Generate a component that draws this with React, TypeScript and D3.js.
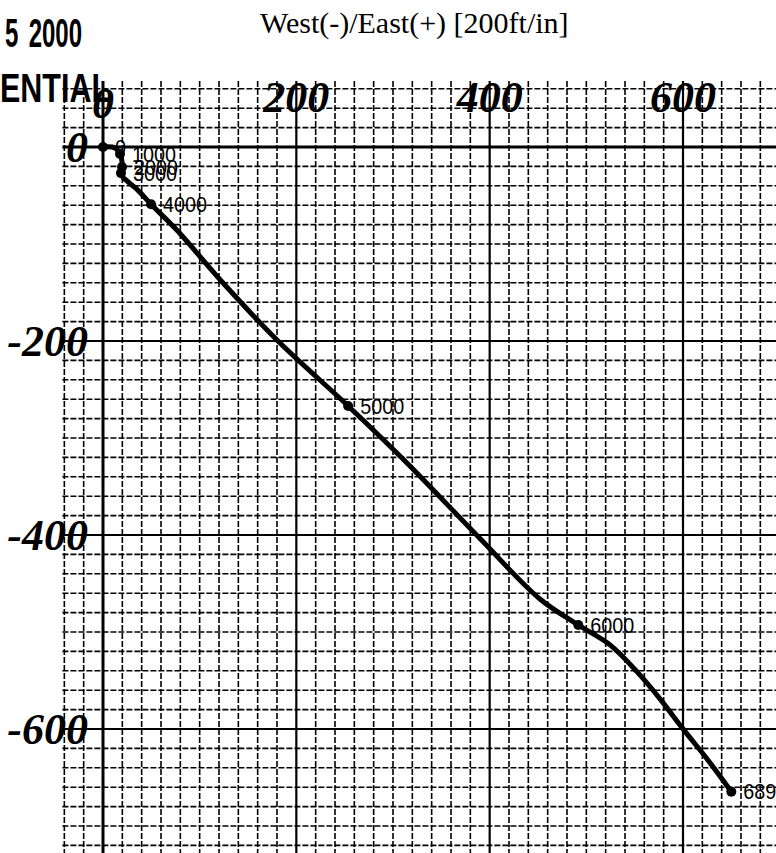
import React from "react";
import * as d3 from "d3";

// survey path, feet east (+) / north (+)
const pathEast = [0, 12.4, 17.6, 19.7, 18.6, 19.7, 24.8, 35, 49.7, 76.6, 124, 181, 253.6, 314.7, 390, 452, 491.7, 524.8, 552.8, 576.6, 600.4, 625.3, 650];
const pathNorth = [0, -1, -7.2, -15.5, -23.8, -30, -35, -43.5, -59, -85.9, -140, -200, -267, -326, -403.7, -466, -492.8, -513.5, -541.4, -569.4, -600.4, -631.4, -664.6];

// labelled stations (measured depth)
const stationMD = ["0", "1000", "2000", "3000", "4000", "5000", "6000", "6890"];
const stationEast = [0, 17.6, 19.7, 18.6, 49.7, 253.6, 491.7, 650];
const stationNorth = [0, -7.2, -20.7, -26.9, -59, -267, -492.8, -664.6];

const xTicks = [0, 200, 400, 600];
const yTicks = [0, -200, -400, -600];

const W = 776;
const H = 853;

export default function App() {
  const x = d3.scaleLinear().domain([0, 600]).range([103, 683]);
  const y = d3.scaleLinear().domain([0, -600]).range([147, 729]);

  const gridX = d3.range(-40, 701, 20);
  const gridY = d3.range(60, -741, -20);
  const left = x(-42);
  const top = y(68);

  const pts: [number, number][] = pathEast.map((e, i) => [e, pathNorth[i]]);
  const line = d3
    .line<[number, number]>()
    .x((d) => x(d[0]))
    .y((d) => y(d[1]))
    .curve(d3.curveCatmullRom.alpha(0.5));

  const lineStyle = (v: number) =>
    v === 0
      ? { w: 3, dash: "none" }
      : v % 200 === 0
      ? { w: 2.2, dash: "none" }
      : { w: 1.6, dash: "6 2" };

  return (
    <div style={{ position: "absolute", left: 0, top: 0 }}>
      <svg width={W} height={H} style={{ display: "block", background: "#fff" }}>
        <g stroke="#000">
          {gridX.map((v) => {
            const s = lineStyle(v);
            return (
              <line key={"gx" + v} x1={x(v)} x2={x(v)} y1={top} y2={H}
                strokeWidth={s.w} strokeDasharray={s.dash} />
            );
          })}
          {gridY.map((v) => {
            const s = lineStyle(v);
            return (
              <line key={"gy" + v} x1={left} x2={W} y1={y(v)} y2={y(v)}
                strokeWidth={s.w} strokeDasharray={s.dash} />
            );
          })}
        </g>

        <path d={line(pts) || ""} fill="none" stroke="#000" strokeWidth={5} strokeLinejoin="round" />

        {stationMD.map((md, i) => (
          <g key={md}>
            <circle cx={x(stationEast[i])} cy={y(stationNorth[i])} r={5} fill="#000" />
            <text x={x(stationEast[i]) + 12} y={y(stationNorth[i])} dy="0.35em"
              fontFamily="Liberation Sans, Arial, sans-serif" fontSize={22}
              textLength={11 * md.length} lengthAdjust="spacingAndGlyphs">{md}</text>
          </g>
        ))}

        <g fontFamily="Liberation Serif, Times New Roman, serif" fontWeight="bold" fontStyle="italic" fontSize={44}>
          {xTicks.map((v) => (
            <text key={"tx" + v} x={x(v)} y={v === 0 ? 118 : 112} textAnchor="middle">{v}</text>
          ))}
          {yTicks.map((v) => (
            <text key={"ty" + v} x={88} y={y(v) + 15} textAnchor="end">{v}</text>
          ))}
        </g>

        <text x={260} y={33} fontFamily="Liberation Serif, Times New Roman, serif" fontSize={30}>
          West(-)/East(+) [200ft/in]
        </text>

        <g fontFamily="Liberation Sans, Arial, sans-serif" fontWeight="bold" fontSize={40}>
          <text transform="translate(5,47) scale(0.6,1)">5</text>
          <text transform="translate(82,47) scale(0.6,1)" textAnchor="end">2000</text>
          <text x={0} y={102} textLength={110} lengthAdjust="spacingAndGlyphs" fontSize={41}>
            ENTIAL
          </text>
        </g>
      </svg>
    </div>
  );
}
